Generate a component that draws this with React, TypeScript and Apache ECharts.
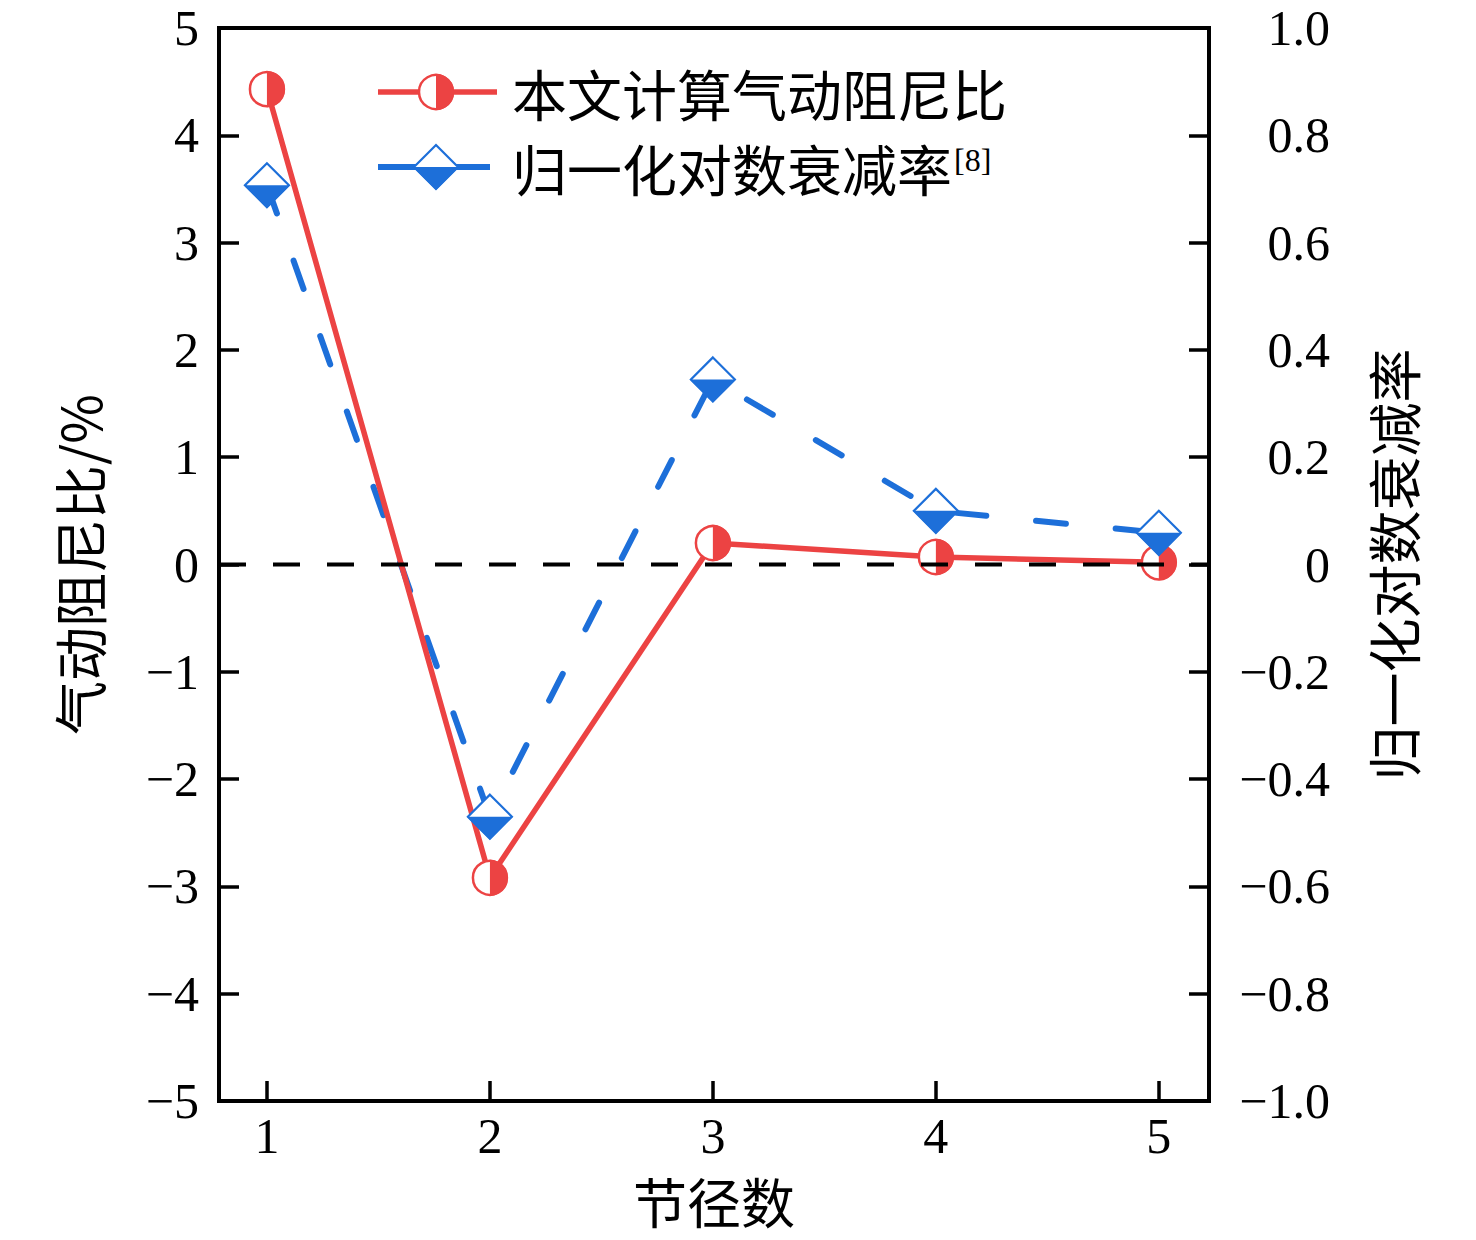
import React, { useEffect, useRef } from "react";
import * as echarts from "echarts";

const NODE_DIAMETERS = [1, 2, 3, 4, 5];
const AERO_DAMPING = [4.43, -2.92, 0.2, 0.07, 0.02];
const LOG_DECREMENT = [0.707, -0.47, 0.345, 0.1, 0.059];
const LEFT_TICKS = [-5, -4, -3, -2, -1, 0, 1, 2, 3, 4, 5];
const X_RANGE = [0.785, 5.225];

const RED = "#EC4343";
const BLUE = "#1D6FD9";
const SERIF = "'Liberation Serif', 'Noto Sans CJK SC', serif";
const CJK = "'Noto Sans CJK SC', 'Liberation Serif', sans-serif";

const minus = (s: string) => s.replace("-", "\u2212");

export default function App() {
  const ref = useRef<HTMLDivElement>(null);
  useEffect(() => {
    if (!ref.current) return;
    const chart = echarts.init(ref.current, null, { renderer: "svg" });
    const redData = NODE_DIAMETERS.map((x, i) => [x, AERO_DAMPING[i]]);
    const blueData = NODE_DIAMETERS.map((x, i) => [x, LOG_DECREMENT[i]]);

    const R = 17;
    const H = 22;
    const circleMarker = (cx: number, cy: number) => ({
      type: "group",
      children: [
        { type: "circle", shape: { cx, cy, r: R }, style: { fill: "#fff", stroke: RED, lineWidth: 2.5 } },
        {
          type: "sector",
          shape: { cx, cy, r0: 0, r: R + 1, startAngle: -Math.PI / 2, endAngle: Math.PI / 2, clockwise: true },
          style: { fill: RED },
        },
      ],
    });
    const diamondMarker = (cx: number, cy: number) => ({
      type: "group",
      children: [
        {
          type: "polygon",
          shape: { points: [[cx, cy - H], [cx + H, cy], [cx, cy + H], [cx - H, cy]] },
          style: { fill: "#fff", stroke: BLUE, lineWidth: 2.2 },
        },
        {
          type: "polygon",
          shape: { points: [[cx - H - 1, cy], [cx + H + 1, cy], [cx, cy + H + 1]] },
          style: { fill: BLUE },
        },
      ],
    });

    const option: any = {
      animation: false,
      backgroundColor: "#fff",
      grid: {
        left: 219,
        right: 267,
        top: 28,
        bottom: 139,
        show: true,
        borderColor: "#000",
        borderWidth: 4,
        backgroundColor: "transparent",
      },
      xAxis: {
        type: "value",
        min: X_RANGE[0],
        max: X_RANGE[1],
        name: "节径数",
        nameLocation: "middle",
        nameGap: 72,
        nameTextStyle: { fontFamily: CJK, fontSize: 54, color: "#000" },
        axisLine: { show: false, onZero: false },
        axisTick: { show: true, inside: true, length: 20, customValues: NODE_DIAMETERS, lineStyle: { color: "#000", width: 3.5 } },
        axisLabel: { customValues: NODE_DIAMETERS, fontFamily: SERIF, fontSize: 50, color: "#000", margin: 10 },
        splitLine: { show: false },
      },
      yAxis: [
        {
          type: "value",
          min: -5,
          max: 5,
          interval: 1,
          position: "left",
          name: "气动阻尼比/%",
          nameLocation: "middle",
          nameRotate: 90,
          nameGap: 114,
          nameTextStyle: { fontFamily: CJK, fontSize: 54, color: "#000" },
          axisLine: { show: false },
          axisTick: { show: true, inside: true, length: 20, lineStyle: { color: "#000", width: 3.5 } },
          axisLabel: {
            fontFamily: SERIF,
            fontSize: 50,
            color: "#000",
            margin: 20,
            customValues: LEFT_TICKS,
            formatter: (v: number) => minus(String(Math.round(v))),
          },
          splitLine: { show: false },
        },
        {
          type: "value",
          min: -1,
          max: 1,
          interval: 0.2,
          position: "right",
          name: "归一化对数衰减率",
          nameLocation: "middle",
          nameRotate: 90,
          nameGap: 156,
          nameTextStyle: { fontFamily: CJK, fontSize: 54, color: "#000" },
          axisLine: { show: false },
          axisTick: { show: true, inside: true, length: 20, lineStyle: { color: "#000", width: 3.5 } },
          axisLabel: {
            fontFamily: SERIF,
            fontSize: 50,
            color: "#000",
            margin: 121,
            align: "right",
            formatter: (v: number) => (Math.abs(v) < 1e-9 ? "0" : minus(v.toFixed(1))),
          },
          splitLine: { show: false },
        },
      ],
      series: [
        {
          type: "line",
          yAxisIndex: 1,
          data: blueData,
          symbol: "none",
          z: 2,
          lineStyle: { color: BLUE, width: 6, type: [30, 50], cap: "round" },
        },
        {
          type: "line",
          yAxisIndex: 0,
          data: redData,
          symbol: "none",
          z: 3,
          lineStyle: { color: RED, width: 5.5 },
        },
        {
          type: "custom",
          yAxisIndex: 0,
          data: redData,
          z: 4,
          encode: { x: 0, y: 1 },
          renderItem: (params: any, api: any) => {
            const p = api.coord([api.value(0), api.value(1)]);
            return circleMarker(p[0], p[1]);
          },
        },
        {
          type: "custom",
          yAxisIndex: 1,
          data: blueData,
          z: 5,
          encode: { x: 0, y: 1 },
          renderItem: (params: any, api: any) => {
            const p = api.coord([api.value(0), api.value(1)]);
            return diamondMarker(p[0], p[1]);
          },
        },
        {
          type: "line",
          yAxisIndex: 0,
          data: [
            [X_RANGE[0], 0],
            [X_RANGE[1], 0],
          ],
          symbol: "none",
          z: 6,
          silent: true,
          lineStyle: { color: "#000", width: 4, type: [27, 27] },
        },
      ],
      graphic: [
        { type: "line", shape: { x1: 378, y1: 92, x2: 497, y2: 92 }, style: { stroke: RED, lineWidth: 5.5 } },
        { ...circleMarker(436, 92) },
        { type: "line", shape: { x1: 378, y1: 167, x2: 490, y2: 167 }, style: { stroke: BLUE, lineWidth: 6 } },
        { ...diamondMarker(436, 167) },
        {
          type: "text",
          x: 512,
          y: 92,
          style: { text: "本文计算气动阻尼比", font: `55px ${CJK}`, fill: "#000", verticalAlign: "middle", align: "left" },
        },
        {
          type: "text",
          x: 512,
          y: 167,
          style: { text: "归一化对数衰减率", font: `55px ${CJK}`, fill: "#000", verticalAlign: "middle", align: "left" },
        },
        {
          type: "text",
          x: 954,
          y: 160,
          style: { text: "[8]", font: `32px ${SERIF}`, fill: "#000", verticalAlign: "middle", align: "left" },
        },
      ],
    };
    chart.setOption(option);
    return () => chart.dispose();
  }, []);
  return (
    <div
      ref={ref}
      style={{ position: "fixed", left: 0, top: 0, width: 1476, height: 1240, background: "#fff" }}
    />
  );
}
